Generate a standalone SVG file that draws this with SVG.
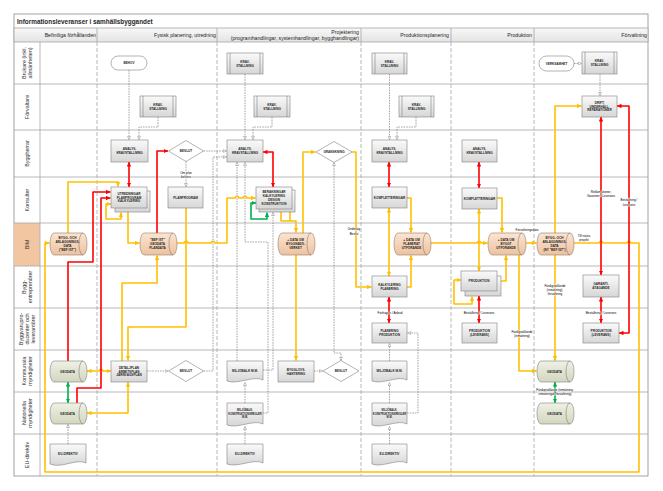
<svg xmlns="http://www.w3.org/2000/svg" width="663" height="491" viewBox="0 0 663 491">
<defs>
<linearGradient id="gBox" x1="0" y1="0" x2="0" y2="1"><stop offset="0" stop-color="#fafafa"/><stop offset="1" stop-color="#d6d6d6"/></linearGradient>
<linearGradient id="gTan" x1="0" y1="0" x2="0" y2="1"><stop offset="0" stop-color="#fbe5d2"/><stop offset="1" stop-color="#edc29f"/></linearGradient>
<linearGradient id="gGeo" x1="0" y1="0" x2="0" y2="1"><stop offset="0" stop-color="#eff1e4"/><stop offset="1" stop-color="#d3d6bf"/></linearGradient>
<linearGradient id="gHead" x1="0" y1="0" x2="0" y2="1"><stop offset="0" stop-color="#f8f8f8"/><stop offset="1" stop-color="#e4e4e4"/></linearGradient>
<marker id="aY" viewBox="0 0 10 10" refX="10" refY="5" markerWidth="4.5" markerHeight="4.5" markerUnits="userSpaceOnUse" orient="auto-start-reverse"><path d="M0 0L10 5L0 10z" fill="#FFC000"/></marker>
<marker id="aR" viewBox="0 0 10 10" refX="10" refY="5" markerWidth="4.5" markerHeight="4.5" markerUnits="userSpaceOnUse" orient="auto-start-reverse"><path d="M0 0L10 5L0 10z" fill="#FF0000"/></marker>
<marker id="aG" viewBox="0 0 10 10" refX="10" refY="5" markerWidth="4.5" markerHeight="4.5" markerUnits="userSpaceOnUse" orient="auto-start-reverse"><path d="M0 0L10 5L0 10z" fill="#00B050"/></marker>
<marker id="aD" viewBox="0 0 10 10" refX="9.5" refY="5" markerWidth="3.6" markerHeight="3.6" markerUnits="userSpaceOnUse" orient="auto-start-reverse"><path d="M1 1L9.5 5L1 9z" fill="#fff" stroke="#7f7f7f" stroke-width="1.3"/></marker>
<style>
text{font-family:'Liberation Sans',Arial,sans-serif}
.box{fill:url(#gBox);stroke:#7f7f7f;stroke-width:0.6}
.wht{fill:#fff;stroke:#7f7f7f;stroke-width:0.6}
.tan{fill:url(#gTan);stroke:#9a7b66;stroke-width:0.6}
.geo{fill:url(#gGeo);stroke:#7f7f7f;stroke-width:0.6}
.face{fill:none;stroke:#8a7a70;stroke-width:0.6}
.bar{stroke:#7f7f7f;stroke-width:0.6}
.nt{font-size:3.1px;font-weight:bold;fill:#262626;text-anchor:middle}
.lb{font-size:3.1px;fill:#000;text-anchor:middle;paint-order:stroke;stroke:#fff;stroke-width:0.7px;stroke-linejoin:round}
.hd{font-size:5.2px;fill:#262626;text-anchor:end}
.rl{font-size:5.4px;fill:#333;text-anchor:middle}
.lane{stroke:#a6a6a6;stroke-width:0.8;fill:none}
.col{stroke:#a6a6a6;stroke-width:0.8;stroke-dasharray:4 2;fill:none}
.y{fill:none;stroke:#FFC000;stroke-width:1.6;stroke-linejoin:round}
.r{fill:none;stroke:#FF0000;stroke-width:1.6;stroke-linejoin:round}
.g{fill:none;stroke:#00B050;stroke-width:1.6;stroke-linejoin:round}
.d{fill:none;stroke:#808080;stroke-width:0.7;stroke-dasharray:1.6 1}
.e1{marker-end:url(#aY)}.b1{marker-start:url(#aY);marker-end:url(#aY)}
.e2{marker-end:url(#aR)}.b2{marker-start:url(#aR);marker-end:url(#aR)}
.b3{marker-start:url(#aG);marker-end:url(#aG)}
.e4{marker-end:url(#aD)}.b4{marker-start:url(#aD);marker-end:url(#aD)}
</style>
</defs>
<rect width="663" height="491" fill="#fff"/>
<g id="frame">
<rect x="14" y="14" width="634" height="462" fill="#fff" stroke="#8c8c8c" stroke-width="0.8"/>
<rect x="14" y="28" width="634" height="14" fill="url(#gHead)" stroke="#a6a6a6" stroke-width="0.8"/>
<rect x="14" y="223" width="26" height="43" fill="#f3c6a2"/>
<text x="17" y="24" style="font-size:6.4px;font-weight:bold;fill:#262626">Informationsleveranser i samhällsbyggandet</text>
<path class="lane" d="M40 42V476M14 84H648M14 130H648M14 177H648M14 223H648M14 266H648M14 308H648M14 350H648M14 392H648M14 434H648"/>
<path class="lane" d="M97 28V42M217 28V42M361 28V42M451 28V42M534 28V42"/>
<path class="col" d="M97 42V476M217 42V476M361 42V476M451 42V476M534 42V476"/>
<text class="hd" x="96" y="37">Befintliga förhållanden</text>
<text class="hd" x="216" y="37">Fysisk planering, utredning</text>
<text class="hd" x="359" y="33.5">Projektering</text>
<text class="hd" x="359" y="39.7">(programhandlingar, systemhandlingar, bygghandlingar)</text>
<text class="hd" x="449" y="37">Produktionsplanering</text>
<text class="hd" x="532" y="37">Produktion</text>
<text class="hd" x="647" y="37">Förvaltning</text>
<text class="rl" transform="translate(27 63) rotate(-90)"><tspan x="0" y="-1">Brukare (inkl.</tspan><tspan x="0" y="5">allmänheten)</tspan></text>
<text class="rl" transform="translate(27 107) rotate(-90)"><tspan x="0" y="1.9">Förvaltare</tspan></text>
<text class="rl" transform="translate(27 153.5) rotate(-90)"><tspan x="0" y="1.9">Byggherrar</tspan></text>
<text class="rl" transform="translate(27 200) rotate(-90)"><tspan x="0" y="1.9">Konsulter</tspan></text>
<text class="rl" transform="translate(27 244.5) rotate(-90)"><tspan x="0" y="1.9">BIM</tspan></text>
<text class="rl" transform="translate(27 287) rotate(-90)"><tspan x="0" y="-1">Bygg-</tspan><tspan x="0" y="5">entreprenörer</tspan></text>
<text class="rl" transform="translate(27 329) rotate(-90)"><tspan x="0" y="-4">Byggvarupro-</tspan><tspan x="0" y="2">ducenter och</tspan><tspan x="0" y="8">leverantörer</tspan></text>
<text class="rl" transform="translate(27 371) rotate(-90)"><tspan x="0" y="-1">Kommunala</tspan><tspan x="0" y="5">myndigheter</tspan></text>
<text class="rl" transform="translate(27 413) rotate(-90)"><tspan x="0" y="-1">Nationella</tspan><tspan x="0" y="5">myndigheter</tspan></text>
<text class="rl" transform="translate(27 455) rotate(-90)"><tspan x="0" y="1.9">EU-direktiv</tspan></text>
</g>
<g id="connectors">
<path class="d e4" d="M129 70V139.5"/>
<path class="d e4" d="M158 117V127H139V139.5"/>
<path class="d e4" d="M203.5 151H226.5"/>
<path class="d e4" d="M186 161.5V186.5"/>
<path class="d e4" d="M147 371H168"/>
<path class="d e4" d="M203.5 371H213V157H226.5"/>
<path class="d e4" d="M245 74V139.5"/>
<path class="d e4" d="M272 117V127H253V139.5"/>
<path class="d e4" d="M237 361V162.5"/>
<path class="d e4" d="M263 413H268V242H245V162.5"/>
<path class="d e4" d="M263 370H273V212.5"/>
<path class="d e4" d="M245 403V382.5"/>
<path class="d e4" d="M245 444V426.5"/>
<path class="d b4" d="M341 360.5V353H334V162.5"/>
<path class="d e4" d="M314 371H322.5"/>
<path class="d e4" d="M389.5 74V139.5"/>
<path class="d e4" d="M416 117V127H397V139.5"/>
<path class="d e4" d="M389.5 444V426.5"/>
<path class="d e4" d="M389.5 403V382.5"/>
<path class="d e4" d="M389.5 361V343.5"/>
<path class="d e4" d="M407 413H418V333H407.5"/>
<path class="d e4" d="M68 444V424.5"/>
<path class="d e4" d="M574 63.5H581.5"/>
<path class="d e4" d="M600 74V95.5"/>
<path class="y e1" d="M68 233V182H118V186.5"/>
<path class="y e1" d="M574 243H599.2a1.8 1.8 0 0 1 3.6 0H627.2a1.8 1.8 0 0 1 3.6 0H639V472H45V243H49.5"/>
<path class="y e1" d="M128 212V243H139.5"/>
<path class="y e1" d="M177 243H184.2a1.8 1.8 0 0 1 3.6 0H211.2a1.8 1.8 0 0 1 3.6 0H227V198H235.2a1.8 1.8 0 0 1 3.6 0H243.2a1.8 1.8 0 0 1 3.6 0H255.5"/>
<path class="y e1" d="M186 208V327H128V360.5"/>
<path class="y e1" d="M122 361V283H157V255.5"/>
<path class="y b1" d="M87 371H99.2a1.8 1.8 0 0 1 3.6 0H111"/>
<path class="y b1" d="M128 382V413H87"/>
<path class="y b1" d="M111 204H106V219H121V212.5"/>
<path class="y" d="M290 212V221"/>
<path class="y e1" d="M281 209V221H296V232.5"/>
<path class="y e1" d="M303 233V152H315.5"/>
<path class="y e1" d="M352 152H356V287H371.5"/>
<path class="y e1" d="M296 255V360.5"/>
<path class="y e1" d="M407 198H411V232.5"/>
<path class="y e1" d="M407 287H411V255.5"/>
<path class="y b1" d="M389 208V276"/>
<path class="y e1" d="M431 243H477.2a1.8 1.8 0 0 1 3.6 0H487.5"/>
<path class="y e1" d="M497 198H502V232.5"/>
<path class="y b1" d="M479 209V271"/>
<path class="y e1" d="M497 281H506V255.5"/>
<path class="y b1" d="M461 280H454V304H472V296.5"/>
<path class="y e1" d="M526 243H536.5"/>
<path class="y e1" d="M519 255V371H536.5"/>
<path class="y e1" d="M555 233V106H581.5"/>
<path class="y e1" d="M555 255V360.5"/>
<path class="r b2" d="M129 162V187"/>
<path class="r e2" d="M157 233V151H168"/>
<path class="r e2" d="M68 361V262H93V192H110.5"/>
<path class="r e2" d="M77 403V388H101V198H110.5"/>
<path class="r b2" d="M263 152H273V187"/>
<path class="r b2" d="M389 162V187"/>
<path class="r b2" d="M389 297V323"/>
<path class="r b2" d="M479 162V188"/>
<path class="r b2" d="M479 296V323"/>
<path class="r b2" d="M601 117V275"/>
<path class="r b2" d="M619 333H629V106H617"/>
<path class="r b2" d="M601 297V323"/>
<path class="g b3" d="M68 382V403"/>
<path class="g b3" d="M555 382V403"/>
<path class="g b3" d="M256 203H251V219H267V212.5"/>
<text class="lb"><tspan x="186" y="173.5">Om plan</tspan><tspan x="186" y="177.5">behövs</tspan></text>
<text class="lb"><tspan x="354" y="230">Underlag</tspan><tspan x="354" y="234.5">Beslut</tspan></text>
<text class="lb" x="390" y="313.5">Förfrågan / Anbud</text>
<text class="lb" x="479" y="313.5">Beställning / Leverans</text>
<text class="lb" x="601" y="313.5">Beställning / Leverans</text>
<text class="lb" x="527" y="230.5">Förvaltningsdata</text>
<text class="lb"><tspan x="584" y="237">Till nästa</tspan><tspan x="584" y="241">projekt</tspan></text>
<text class="lb"><tspan x="522" y="332.5">Färdigställande</tspan><tspan x="522" y="336.5">(inmätning)</tspan></text>
<text class="lb"><tspan x="555" y="287">Färdigställande</tspan><tspan x="555" y="291">(inmätning),</tspan><tspan x="555" y="295">förvaltning</tspan></text>
<text class="lb"><tspan x="601" y="192.5">Reklamationer,</tspan><tspan x="601" y="196.5">Garantier / Leverans</tspan></text>
<text class="lb"><tspan x="629" y="201">Beställning /</tspan><tspan x="629" y="205.5">Leverans</tspan></text>
<text class="lb"><tspan x="555" y="390.5">Färdigställande (inmätning,</tspan><tspan x="555" y="394.5">inmätningar, förvaltning)</tspan></text>
</g>
<g id="n-bef-bim"><path class="tan" d="M54 233H83A4 11 0 0 1 83 255H54A4 11 0 0 1 54 233Z"/><path class="face" d="M83 233A4 11 0 0 0 83 255"/><text class="nt"><tspan x="67.5" y="239.4">BYGG- OCH</tspan><tspan x="67.5" y="243.2">ANLÄGGNINGS-</tspan><tspan x="67.5" y="247">DATA</tspan><tspan x="67.5" y="250.8">("BEF IST")</tspan></text></g>
<g id="n-geo-kom"><path class="geo" d="M54 361H83A4 10.5 0 0 1 83 382H54A4 10.5 0 0 1 54 361Z"/><path class="face" d="M83 361A4 10.5 0 0 0 83 382"/><text class="nt" x="67.5" y="372.6">GEODATA</text></g>
<g id="n-geo-nat"><path class="geo" d="M54 403H83A4 10.5 0 0 1 83 424H54A4 10.5 0 0 1 54 403Z"/><path class="face" d="M83 403A4 10.5 0 0 0 83 424"/><text class="nt" x="67.5" y="414.6">GEODATA</text></g>
<g id="n-eu-1"><path class="box" d="M50 444H86V463C77 458 61 469 50 464Z"/><text class="nt" x="68" y="454.6">EU-DIREKTIV</text></g>
<g id="n-behov"><rect class="wht" x="111" y="56" width="36" height="14" rx="7"/><text class="nt" x="129" y="64.1">BEHOV</text></g>
<g id="n-krav-f1"><rect class="box" x="140" y="96" width="36" height="21"/><path class="bar" d="M143 96V117M173 96V117"/><text class="nt"><tspan x="158" y="105.7">KRAV-</tspan><tspan x="158" y="109.5">STÄLLNING</tspan></text></g>
<g id="n-analys-1"><rect class="box" x="111" y="140" width="37" height="22"/><text class="nt"><tspan x="129.5" y="150.2">ANALYS,</tspan><tspan x="129.5" y="154">KRAVSTÄLLNING</tspan></text></g>
<g id="n-beslut-1"><polygon class="wht" points="168.5,151 186,140.5 203.5,151 186,161.5"/><text class="nt" x="186" y="152.1">BESLUT</text></g>
<g id="n-utred"><rect class="box" x="115" y="191" width="35" height="21"/><rect class="box" x="111" y="187" width="36" height="21"/><text class="nt"><tspan x="129" y="194.8">UTREDNINGAR</tspan><tspan x="129" y="198.6">PLANPROGRAM</tspan><tspan x="129" y="202.4">KALKYLERING</tspan></text></g>
<g id="n-planprog"><rect class="box" x="168" y="187" width="35" height="21"/><text class="nt" x="185.5" y="198.6">PLANPROGRAM</text></g>
<g id="n-bef-plan"><path class="tan" d="M144 233H173A4 11 0 0 1 173 255H144A4 11 0 0 1 144 233Z"/><path class="face" d="M173 233A4 11 0 0 0 173 255"/><text class="nt"><tspan x="157.5" y="241.3">"BEF IST"</tspan><tspan x="157.5" y="245.1">GEODATA</tspan><tspan x="157.5" y="248.9">PLANDATA</tspan></text></g>
<g id="n-detalj"><rect class="box" x="111" y="361" width="36" height="21"/><text class="nt"><tspan x="129" y="368.8">DETALJPLAN</tspan><tspan x="129" y="372.6">ARBETSPLAN</tspan><tspan x="129" y="376.4">JÄRNVÄGSPLAN</tspan></text></g>
<g id="n-beslut-2"><polygon class="wht" points="168.5,371 186,360.5 203.5,371 186,381.5"/><text class="nt" x="186" y="372.1">BESLUT</text></g>
<g id="n-krav-p0"><rect class="box" x="227" y="53" width="36" height="21"/><path class="bar" d="M230 53V74M260 53V74"/><text class="nt"><tspan x="245" y="62.7">KRAV-</tspan><tspan x="245" y="66.5">STÄLLNING</tspan></text></g>
<g id="n-krav-p1"><rect class="box" x="254" y="96" width="36" height="21"/><path class="bar" d="M257 96V117M287 96V117"/><text class="nt"><tspan x="272" y="105.7">KRAV-</tspan><tspan x="272" y="109.5">STÄLLNING</tspan></text></g>
<g id="n-analys-2"><rect class="box" x="227" y="140" width="36" height="22"/><text class="nt"><tspan x="245" y="150.2">ANALYS,</tspan><tspan x="245" y="154">KRAVSTÄLLNING</tspan></text></g>
<g id="n-gransk"><polygon class="wht" points="316,152 334,141.5 352,152 334,162.5"/><text class="nt" x="334" y="153.1">GRANSKNING</text></g>
<g id="n-berak"><rect class="box" x="259" y="190" width="36" height="22"/><rect class="box" x="256" y="187" width="36" height="22"/><text class="nt"><tspan x="274" y="193.4">BERÄKNINGAR</tspan><tspan x="274" y="197.2">KALKYLERING</tspan><tspan x="274" y="201">DESIGN</tspan><tspan x="274" y="204.8">KONSTRUKTION</tspan></text></g>
<g id="n-data-bygg"><path class="tan" d="M282 233H311A4 11 0 0 1 311 255H282A4 11 0 0 1 282 233Z"/><path class="face" d="M311 233A4 11 0 0 0 311 255"/><text class="nt"><tspan x="295.5" y="241.3">+ DATA OM</tspan><tspan x="295.5" y="245.1">BYGGNADS-</tspan><tspan x="295.5" y="248.9">VERKET</tspan></text></g>
<g id="n-bygglov"><rect class="box" x="278" y="361" width="36" height="21"/><text class="nt"><tspan x="296" y="370.7">BYGGLOVS-</tspan><tspan x="296" y="374.5">HANTERING</tspan></text></g>
<g id="n-beslut-3"><polygon class="wht" points="323,371 341,360.5 359,371 341,381.5"/><text class="nt" x="341" y="372.1">BESLUT</text></g>
<g id="n-miljo-1"><path class="box" d="M227 361H263V380C254 375 238 385 227 381Z"/><text class="nt" x="245" y="371.6">MILJÖBALK M.M.</text></g>
<g id="n-miljo-2"><path class="box" d="M227 403H263V424C254 419 238 429 227 425Z"/><text class="nt" style="font-size:2.6px"><tspan x="245" y="410.8">MILJÖBALK,</tspan><tspan x="245" y="414.6">KONSTRUKTIONSREGLER</tspan><tspan x="245" y="418.4">M.M.</tspan></text></g>
<g id="n-eu-2"><path class="box" d="M227 444H263V463C254 458 238 468 227 464Z"/><text class="nt" x="245" y="454.6">EU-DIREKTIV</text></g>
<g id="n-krav-pp0"><rect class="box" x="372" y="53" width="35" height="21"/><path class="bar" d="M375 53V74M404 53V74"/><text class="nt"><tspan x="389.5" y="62.7">KRAV-</tspan><tspan x="389.5" y="66.5">STÄLLNING</tspan></text></g>
<g id="n-krav-pp1"><rect class="box" x="399" y="96" width="35" height="21"/><path class="bar" d="M402 96V117M431 96V117"/><text class="nt"><tspan x="416.5" y="105.7">KRAV-</tspan><tspan x="416.5" y="109.5">STÄLLNING</tspan></text></g>
<g id="n-analys-3"><rect class="box" x="372" y="140" width="35" height="22"/><text class="nt"><tspan x="389.5" y="150.2">ANALYS,</tspan><tspan x="389.5" y="154">KRAVSTÄLLNING</tspan></text></g>
<g id="n-kompl-1"><rect class="box" x="372" y="187" width="35" height="21"/><text class="nt" x="389.5" y="198.6">KOMPLETTERINGAR</text></g>
<g id="n-data-plan"><path class="tan" d="M398 233H427A4 11 0 0 1 427 255H398A4 11 0 0 1 398 233Z"/><path class="face" d="M427 233A4 11 0 0 0 427 255"/><text class="nt"><tspan x="411.5" y="241.3">+ DATA OM</tspan><tspan x="411.5" y="245.1">PLANERAT</tspan><tspan x="411.5" y="248.9">UTFÖRANDE</tspan></text></g>
<g id="n-kalk"><rect class="box" x="372" y="276" width="35" height="21"/><text class="nt"><tspan x="389.5" y="285.7">KALKYLERING</tspan><tspan x="389.5" y="289.5">PLANERING</tspan></text></g>
<g id="n-plan-prod"><rect class="box" x="372" y="323" width="35" height="20"/><text class="nt"><tspan x="389.5" y="332.2">PLANERING</tspan><tspan x="389.5" y="336">PRODUKTION</tspan></text></g>
<g id="n-miljo-3"><path class="box" d="M372 361H407V380C398 375 382.5 385 372 381Z"/><text class="nt" x="389.5" y="371.6">MILJÖBALK M.M.</text></g>
<g id="n-miljo-4"><path class="box" d="M372 403H407V424C398 419 382.5 429 372 425Z"/><text class="nt" style="font-size:2.6px"><tspan x="389.5" y="410.8">MILJÖBALK,</tspan><tspan x="389.5" y="414.6">KONSTRUKTIONSREGLER</tspan><tspan x="389.5" y="418.4">M.M.</tspan></text></g>
<g id="n-eu-3"><path class="box" d="M372 444H407V463C398 458 382.5 468 372 464Z"/><text class="nt" x="389.5" y="454.6">EU-DIREKTIV</text></g>
<g id="n-analys-4"><rect class="box" x="462" y="140" width="35" height="22"/><text class="nt"><tspan x="479.5" y="150.2">ANALYS,</tspan><tspan x="479.5" y="154">KRAVSTÄLLNING</tspan></text></g>
<g id="n-kompl-2"><rect class="box" x="462" y="188" width="35" height="21"/><text class="nt" x="479.5" y="199.6">KOMPLETTERINGAR</text></g>
<g id="n-data-byggt"><path class="tan" d="M492 233H522A4 11 0 0 1 522 255H492A4 11 0 0 1 492 233Z"/><path class="face" d="M522 233A4 11 0 0 0 522 255"/><text class="nt"><tspan x="506" y="241.3">+ DATA OM</tspan><tspan x="506" y="245.1">BYGGT</tspan><tspan x="506" y="248.9">UTFÖRANDE</tspan></text></g>
<g id="n-prod"><rect class="box" x="465" y="276" width="36" height="20"/><rect class="box" x="461" y="271" width="36" height="20"/><text class="nt" x="479" y="282.1">PRODUKTION</text></g>
<g id="n-prod-lev-1"><rect class="box" x="462" y="323" width="35" height="20"/><text class="nt"><tspan x="479.5" y="332.2">PRODUKTION</tspan><tspan x="479.5" y="336">(LEVERANS)</tspan></text></g>
<g id="n-verks"><rect class="wht" x="539" y="56" width="35" height="15" rx="7.5"/><text class="nt" x="556.5" y="64.6">VERKSAMHET</text></g>
<g id="n-krav-fv"><rect class="box" x="582" y="52" width="35" height="22"/><path class="bar" d="M585 52V74M614 52V74"/><text class="nt"><tspan x="599.5" y="62.2">KRAV-</tspan><tspan x="599.5" y="66">STÄLLNING</tspan></text></g>
<g id="n-drift"><rect class="box" x="582" y="96" width="35" height="21"/><text class="nt"><tspan x="599.5" y="103.8">DRIFT,</tspan><tspan x="599.5" y="107.6">UNDERHÅLL,</tspan><tspan x="599.5" y="111.4">REPARATIONER</tspan></text></g>
<g id="n-ny-bef"><path class="tan" d="M541 233H570A4 11 0 0 1 570 255H541A4 11 0 0 1 541 233Z"/><path class="face" d="M570 233A4 11 0 0 0 570 255"/><text class="nt"><tspan x="554.5" y="239.4">BYGG- OCH</tspan><tspan x="554.5" y="243.2">ANLÄGGNINGS-</tspan><tspan x="554.5" y="247">DATA</tspan><tspan x="554.5" y="250.8">(NY "BEF IST")</tspan></text></g>
<g id="n-garanti"><rect class="box" x="583" y="275" width="36" height="22"/><text class="nt"><tspan x="601" y="285.2">GARANTI-</tspan><tspan x="601" y="289">ÅTAGANDE</tspan></text></g>
<g id="n-prod-lev-2"><rect class="box" x="583" y="323" width="36" height="20"/><text class="nt"><tspan x="601" y="332.2">PRODUKTION</tspan><tspan x="601" y="336">(LEVERANS)</tspan></text></g>
<g id="n-geo-kom2"><path class="geo" d="M541 361H570A4 10.5 0 0 1 570 382H541A4 10.5 0 0 1 541 361Z"/><path class="face" d="M570 361A4 10.5 0 0 0 570 382"/><text class="nt" x="554.5" y="372.6">GEODATA</text></g>
<g id="n-geo-nat2"><path class="geo" d="M541 403H570A4 10.5 0 0 1 570 424H541A4 10.5 0 0 1 541 403Z"/><path class="face" d="M570 403A4 10.5 0 0 0 570 424"/><text class="nt" x="554.5" y="414.6">GEODATA</text></g>
</svg>
